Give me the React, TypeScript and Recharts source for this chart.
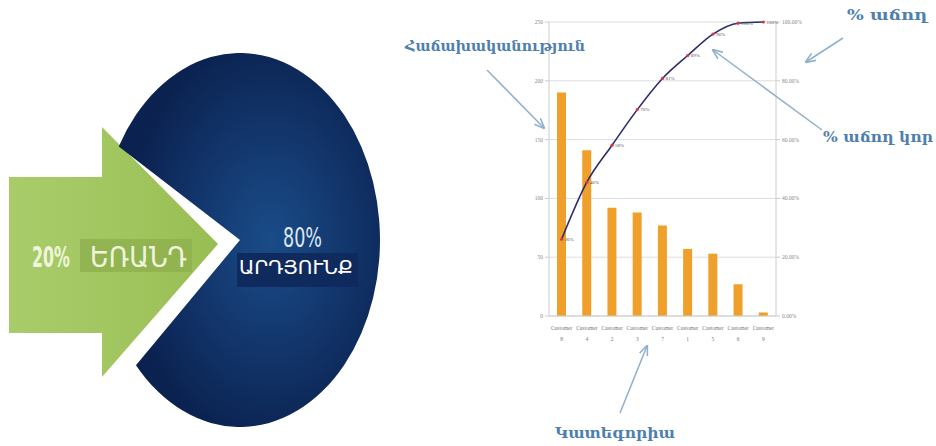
import { PieChart, Pie, Cell, ComposedChart, Bar, Line, XAxis, YAxis, CartesianGrid, LabelList } from 'recharts';

// Pareto data
const customers = ['8', '4', '2', '3', '7', '1', '5', '6', '9'];
const frequency = [190, 141, 92, 88, 77, 57, 53, 27, 3];
const cumulativePct = [26.1, 45.5, 58.1, 70.2, 80.8, 88.6, 95.9, 99.6, 100];
const countTicks = [0, 50, 100, 150, 200, 250];
const pctTicks = [0, 20, 40, 60, 80, 100];

// 80/20 pie on the left
const pieShares = [
  { name: 'ԱՐԴՅՈՒՆՔ', value: 80 },
  { name: 'ԵՌԱՆԴ', value: 20 },
];

const paretoData = customers.map((c, i) => ({
  cat: c,
  freq: frequency[i],
  cum: cumulativePct[i],
}));

const CustomerTick = ({ x, y, payload }: any) => (
  <g transform={`translate(${x},${y})`}>
    <text x={0} y={6} textAnchor="middle" fontSize={5.5} fill="#777">Customer</text>
    <text x={0} y={17} textAnchor="middle" fontSize={5.5} fill="#777">{payload.value}</text>
  </g>
);

const RedDot = ({ cx, cy }: any) => <circle cx={cx} cy={cy} r={1.6} fill="#d8344c" />;

const annotation = {
  fill: '#4f7fae',
  fontFamily: 'DejaVu Serif',
  fontWeight: 700,
  fontSize: 15,
};

export default function App() {
  return (
    <div style={{ position: 'absolute', left: 0, top: 0, width: 936, height: 446, background: '#fff', overflow: 'hidden' }}>
      {/* green arrow, behind everything */}
      <svg width={936} height={446} style={{ position: 'absolute', left: 0, top: 0 }}>
        <defs>
          <linearGradient id="greenGrad" x1="0" y1="0" x2="1" y2="0">
            <stop offset="0%" stopColor="#a9cc6a" />
            <stop offset="60%" stopColor="#a0c55e" />
            <stop offset="100%" stopColor="#98bd52" />
          </linearGradient>
        </defs>
        <polygon points="9,177 102,177 102,127 218,244 102,377 102,333 9,333" fill="url(#greenGrad)" />
      </svg>

      <div style={{ position: 'absolute', left: 100, top: 100, width: 280, height: 280, transform: 'scaleY(1.336)', transformOrigin: '50% 50%' }}>
        <PieChart width={280} height={280} margin={{ top: 0, right: 0, bottom: 0, left: 0 }}>
          <defs>
            <radialGradient id="navyGrad" cx="58%" cy="50%" r="55%">
              <stop offset="0%" stopColor="#1a4c88" />
              <stop offset="55%" stopColor="#12356b" />
              <stop offset="100%" stopColor="#0b2250" />
            </radialGradient>
          </defs>
          <Pie
            data={pieShares}
            dataKey="value"
            cx={140}
            cy={140}
            innerRadius={0}
            outerRadius={140}
            startAngle={222}
            endAngle={582}
            stroke="none"
            isAnimationActive={false}
          >
            <Cell fill="url(#navyGrad)" />
            <Cell fill="transparent" />
          </Pie>
        </PieChart>
      </div>

      <div style={{ position: 'absolute', left: 510, top: 0 }}>
        <ComposedChart width={310} height={350} data={paretoData} margin={{ top: 22, right: 4, bottom: 4, left: 5 }}>
          <CartesianGrid vertical={false} stroke="#dddddd" yAxisId="count" />
          <XAxis dataKey="cat" height={30} tick={<CustomerTick />} tickLine={false} axisLine={{ stroke: '#cccccc' }} interval={0} />
          <YAxis
            yAxisId="count"
            width={34}
            domain={[0, 250]}
            ticks={countTicks}
            tick={{ fontSize: 5.5, fill: '#888' }}
            tickSize={4}
            tickLine={{ stroke: '#cccccc' }}
            axisLine={{ stroke: '#cccccc' }}
          />
          <YAxis
            yAxisId="pct"
            orientation="right"
            width={40}
            domain={[0, 100]}
            ticks={pctTicks}
            tickFormatter={(v: number) => `${v.toFixed(2)}%`}
            tick={{ fontSize: 5.5, fill: '#888' }}
            tickSize={4}
            tickLine={{ stroke: '#cccccc' }}
            axisLine={{ stroke: '#cccccc' }}
          />
          <Bar yAxisId="count" dataKey="freq" fill="#efa02a" barSize={9} isAnimationActive={false} />
          <Line
            yAxisId="pct"
            dataKey="cum"
            type="monotone"
            stroke="#2b2d6e"
            strokeWidth={1.6}
            dot={<RedDot />}
            activeDot={false}
            isAnimationActive={false}
          >
            <LabelList dataKey="cum" position="right" offset={3} fontSize={5} fill="#555" formatter={(v: any) => `${Math.round(v)}%`} />
          </Line>
        </ComposedChart>
      </div>

      {/* texts and annotation arrows on top */}
      <svg width={936} height={446} style={{ position: 'absolute', left: 0, top: 0, pointerEvents: 'none' }}>
        <defs>
          <marker id="head" viewBox="0 0 10 10" refX="9" refY="5" markerWidth="7" markerHeight="7" orient="auto-start-reverse">
            <path d="M0,1 L10,5 L0,9" fill="none" stroke="#8fb0cc" strokeWidth={1.5} />
          </marker>
        </defs>

        <rect x={80} y={239} width={112} height={33} fill="#8fb04f" opacity={0.85} />
        <text x={32} y={267} fontSize={28} fontWeight={700} fontFamily="DejaVu Sans Condensed" fill="#eef5dc" textLength={38} lengthAdjust="spacingAndGlyphs">20%</text>
        <text x={90} y={267} fontSize={28} fontFamily="DejaVu Sans Condensed" fill="#eef5dc" textLength={97} lengthAdjust="spacingAndGlyphs">ԵՌԱՆԴ</text>

        <text x={283} y={247} fontSize={27} fontFamily="DejaVu Sans Condensed" fill="#dfe7f1" textLength={39} lengthAdjust="spacingAndGlyphs">80%</text>
        <rect x={237} y={253} width={121} height={34} fill="#0f2b5d" />
        <text x={239} y={274} fontSize={20} fontFamily="DejaVu Sans Condensed" fill="#ffffff" textLength={114} lengthAdjust="spacingAndGlyphs">ԱՐԴՅՈՒՆՔ</text>

        <text x={405} y={51} {...annotation} textLength={180} lengthAdjust="spacingAndGlyphs">Հաճախականություն</text>
        <text x={847} y={20} {...annotation} textLength={80} lengthAdjust="spacingAndGlyphs">% աճող</text>
        <text x={823} y={142} {...annotation} textLength={110} lengthAdjust="spacingAndGlyphs">% աճող կոր</text>
        <text x={555} y={438} {...annotation} textLength={120} lengthAdjust="spacingAndGlyphs">Կատեգորիա</text>

        <line x1={487} y1={70} x2={544} y2={128} stroke="#8fb0cc" strokeWidth={1.5} markerEnd="url(#head)" />
        <line x1={843} y1={38} x2={806} y2={62} stroke="#8fb0cc" strokeWidth={1.5} markerEnd="url(#head)" />
        <line x1={822} y1={130} x2={713} y2={50} stroke="#8fb0cc" strokeWidth={1.5} markerEnd="url(#head)" />
        <line x1={620} y1={413} x2={647} y2={346} stroke="#8fb0cc" strokeWidth={1.5} markerEnd="url(#head)" />
      </svg>
    </div>
  );
}
